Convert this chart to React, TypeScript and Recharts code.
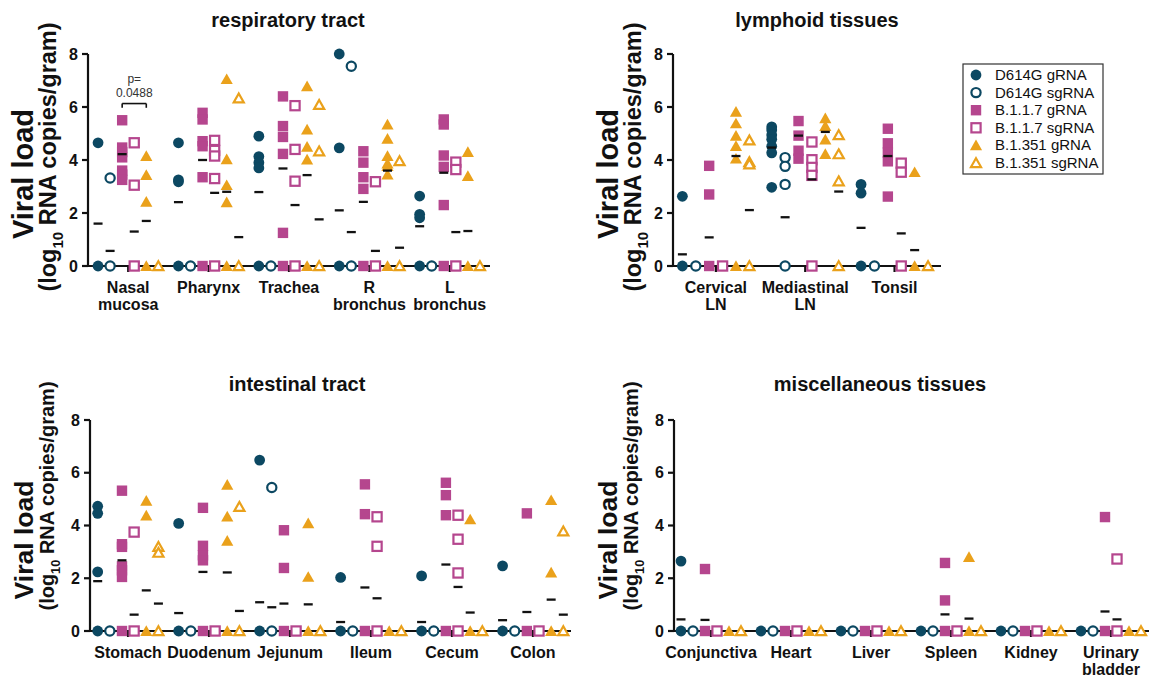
import React from 'react';
import { ScatterChart, Scatter, XAxis, YAxis, ReferenceLine, ReferenceDot } from 'recharts';

const FONT = '"Liberation Sans", Arial, Helvetica, sans-serif';
const INK = '#111111';
const TEAL = '#0c4862';
const PLUM = '#b5468e';
const GOLD = '#eaa11b';

// series order inside every tissue group
const SERIES_NAMES = ['D614G gRNA', 'D614G sgRNA', 'B.1.1.7 gRNA', 'B.1.1.7 sgRNA', 'B.1.351 gRNA', 'B.1.351 sgRNA'];
const SERIES_COLORS = [TEAL, TEAL, PLUM, PLUM, GOLD, GOLD];
const SERIES_SHAPES = ['circle', 'circle', 'square', 'square', 'triangle', 'triangle'];
const SERIES_OPEN = [false, true, false, true, false, true];
const GROUP_STEP = 0.15;

// respiratory tract: values per tissue (log10 copies/gram)
const respCats = ['Nasal\nmucosa', 'Pharynx', 'Trachea', 'R\nbronchus', 'L\nbronchus'];
const respD614Gg = [[4.65, 0], [4.65, 3.25, 3.18, 0], [4.9, 4.13, 3.9, 3.7, 0], [8.0, 4.46, 0], [2.64, 1.95, 1.82, 0]];
const respD614Gsg = [[3.32, 0], [0], [0], [7.54, 0], [0]];
const respB117g = [[5.5, 4.47, 4.3, 4.1, 3.6, 3.45, 3.25], [5.78, 5.53, 4.71, 4.52, 3.35, 0], [6.4, 5.28, 4.87, 4.23, 1.25, 0], [4.33, 3.9, 3.35, 2.91, 0], [5.53, 5.34, 4.17, 3.74, 2.3, 0]];
const respB117sg = [[4.65, 3.05, 0], [4.74, 4.36, 4.15, 3.3, 0], [6.05, 4.4, 3.2, 0], [3.18, 0], [3.92, 3.64, 0]];
const respB1351g = [[4.15, 3.43, 2.42, 0], [7.05, 4.03, 3.05, 2.4, 0], [6.78, 5.15, 4.5, 4.02, 0], [5.34, 4.8, 4.15, 3.87, 3.77, 3.45, 0], [4.3, 3.39, 0]];
const respB1351sg = [[0], [6.33, 0], [6.08, 4.33, 0], [3.96, 0], [0]];
const respMedians = [
  [1.6, 0.57, 4.22, 1.3, 1.7, 0],
  [2.41, 0, 4.0, 2.76, 2.8, 1.09],
  [2.79, 0, 3.68, 2.3, 3.43, 1.76],
  [2.1, 1.28, 2.42, 0.57, 3.6, 0.69],
  [1.5, 0, 3.52, 1.28, 1.32, 0],
];

// lymphoid tissues
const lymCats = ['Cervical\nLN', 'Mediastinal\nLN', 'Tonsil'];
const lymD614Gg = [[2.63, 0], [5.25, 5.13, 4.94, 4.78, 4.52, 4.27, 2.97], [3.08, 2.75, 0]];
const lymD614Gsg = [[0], [4.09, 3.76, 3.08, 0], [0]];
const lymB117g = [[3.78, 2.7, 0], [5.47, 4.92, 4.35, 4.05], [5.18, 4.63, 4.28, 3.95, 2.62]];
const lymB117sg = [[0], [4.68, 4.01, 3.72, 3.42, 0], [3.88, 3.54, 0]];
const lymB1351g = [[5.82, 5.38, 4.91, 4.53, 4.05, 0], [5.57, 5.28, 4.77, 4.22], [3.54, 0]];
const lymB1351sg = [[4.74, 3.92, 3.84, 0], [4.94, 4.22, 3.2, 0], [0]];
const lymMedians = [
  [0.44, 0, 1.08, 0, 4.15, 2.11],
  [4.47, 1.84, 4.92, 3.27, 5.06, 2.81],
  [1.44, 0, 4.15, 1.23, 0.6, 0],
];

// intestinal tract
const intCats = ['Stomach', 'Duodenum', 'Jejunum', 'Ileum', 'Cecum', 'Colon'];
const intD614Gg = [[4.73, 4.46, 2.24, 0], [4.08, 0], [6.48, 0], [2.03, 0], [2.09, 0], [2.47, 0]];
const intD614Gsg = [[0], [0], [5.44, 0], [0], [0], [0]];
const intB117g = [[5.32, 3.29, 3.19, 2.45, 2.3, 2.05, 0], [4.67, 3.23, 2.87, 2.68, 0], [3.82, 2.39, 0], [5.56, 4.43, 0], [5.62, 5.15, 4.39, 0], [4.46, 0]];
const intB117sg = [[3.75, 0], [0], [0], [4.33, 3.21, 0], [4.39, 3.48, 2.2, 0], [0]];
const intB1351g = [[4.94, 4.38, 0], [5.54, 4.34, 3.42, 0], [4.08, 2.05, 0], [0], [4.23, 0], [4.96, 2.22, 0]];
const intB1351sg = [[3.19, 2.97, 0], [4.71, 0], [0], [0], [0], [3.78, 0]];
const intMedians = [
  [1.89, 0, 2.68, 0.62, 1.54, 1.04],
  [0.68, 0, 2.24, 0, 2.22, 0.76],
  [1.09, 0.9, 1.04, 0, 1.01, 0],
  [0.34, 0, 1.65, 1.24, 0, 0],
  [0.34, 0, 2.52, 1.67, 0.7, 0],
  [0.41, 0, 0.72, 0, 1.19, 0.62],
];

// miscellaneous tissues
const miscCats = ['Conjunctiva', 'Heart', 'Liver', 'Spleen', 'Kidney', 'Urinary\nbladder'];
const miscD614Gg = [[2.65, 0], [0], [0], [0], [0], [0]];
const miscD614Gsg = [[0], [0], [0], [0], [0], [0]];
const miscB117g = [[2.35, 0], [0], [0], [2.58, 1.16, 0], [0], [4.32, 0]];
const miscB117sg = [[0], [0], [0], [0], [0], [2.73, 0]];
const miscB1351g = [[0], [0], [0], [2.8, 0], [0], [0]];
const miscB1351sg = [[0], [0], [0], [0], [0], [0]];
const miscMedians = [
  [0.44, 0, 0.42, 0, 0, 0],
  [0, 0, 0, 0, 0, 0],
  [0, 0, 0, 0, 0, 0],
  [0, 0, 0.63, 0, 0.47, 0],
  [0, 0, 0, 0, 0, 0],
  [0, 0, 0.74, 0.44, 0, 0],
];

const Marker = (props: any) => {
  const { cx, cy, kind, color, open } = props;
  if (cx == null || cy == null) return null;
  if (kind === 'circle') {
    return open
      ? <circle cx={cx} cy={cy} r={4.6} fill="#fff" stroke={color} strokeWidth={2.2} />
      : <circle cx={cx} cy={cy} r={5.4} fill={color} />;
  }
  if (kind === 'square') {
    return open
      ? <rect x={cx - 4.6} y={cy - 4.6} width={9.2} height={9.2} fill="#fff" stroke={color} strokeWidth={2.2} />
      : <rect x={cx - 5.2} y={cy - 5.2} width={10.4} height={10.4} fill={color} />;
  }
  const h = open ? 4.8 : 5.8;
  const pts = `${cx},${cy - h} ${cx + h * 1.05},${cy + h * 0.85} ${cx - h * 1.05},${cy + h * 0.85}`;
  return open
    ? <polygon points={pts} fill="#fff" stroke={color} strokeWidth={2.2} />
    : <polygon points={pts} fill={color} />;
};

const Dash = (props: any) => {
  const { cx, cy } = props;
  if (cx == null || cy == null) return null;
  return <line x1={cx - 4.5} x2={cx + 4.5} y1={cy} y2={cy} stroke={INK} strokeWidth={2.3} />;
};

const CatTick = (props: any) => {
  const { x, y, payload, cats } = props;
  const lines: string[] = (cats[payload.value] || '').split('\n');
  return (
    <text x={x} y={y + 19} textAnchor="middle" fontFamily={FONT} fontWeight={700} fontSize={16} fill={INK}>
      {lines.map((l, k) => (
        <tspan key={k} x={x} dy={k === 0 ? 0 : 17}>{l}</tspan>
      ))}
    </text>
  );
};

const yLabel = (x1: number, y1: number, s1: number, x2: number, y2: number, s2: number) => () => (
  <g>
    <text transform={`translate(${x1},${y1}) rotate(-90)`} textAnchor="middle" fontFamily={FONT} fontWeight={700} fontSize={s1} fill={INK}>
      Viral load
    </text>
    <text transform={`translate(${x2},${y2}) rotate(-90)`} textAnchor="middle" fontFamily={FONT} fontWeight={700} fontSize={s2} fill={INK}>
      (log<tspan fontSize={s2 * 0.64} dy={s2 * 0.28}>10</tspan>
      <tspan dy={-s2 * 0.28}> RNA copies/gram)</tspan>
    </text>
  </g>
);

type PanelProps = {
  cats: string[];
  values: number[][][];
  medians: number[][];
  domain: [number, number];
  left: number;
  top: number;
  width: number;
  height: number;
  margin: { top: number; right: number; bottom: number; left: number };
  label: () => React.ReactNode;
  children?: React.ReactNode;
};

const Panel = ({ cats, values, medians, domain, left, top, width, height, margin, label, children }: PanelProps) => {
  const offsets = SERIES_NAMES.map((_, j) => (j - 2.5) * GROUP_STEP);
  const seriesData = values.map((perCat, j) =>
    perCat.flatMap((pts, i) => pts.map((y) => ({ x: i + offsets[j], y })))
  );
  const medianData = medians.flatMap((row, i) =>
    row.map((m, j) => ({ x: i + offsets[j], y: m })).filter((d) => d.y > 0)
  );
  return (
    <div style={{ position: 'absolute', left, top, width, height }}>
      <ScatterChart width={width} height={height} margin={margin}>
        <XAxis
          type="number"
          dataKey="x"
          domain={domain}
          ticks={cats.map((_, i) => i)}
          interval={0}
          tick={<CatTick cats={cats} />}
          tickSize={6}
          tickMargin={2}
          height={40}
          axisLine={{ stroke: INK, strokeWidth: 2.2 }}
          tickLine={{ stroke: INK, strokeWidth: 2.2 }}
        />
        <YAxis
          type="number"
          dataKey="y"
          domain={[0, 8]}
          ticks={[0, 2, 4, 6, 8]}
          width={40}
          tickSize={6}
          tickMargin={4}
          tick={{ fill: INK, fontSize: 16, fontWeight: 700, fontFamily: FONT }}
          axisLine={{ stroke: INK, strokeWidth: 2.2 }}
          tickLine={{ stroke: INK, strokeWidth: 2.2 }}
          label={label}
        />
        {seriesData.map((d, j) => (
          <Scatter
            key={SERIES_NAMES[j]}
            name={SERIES_NAMES[j]}
            data={d}
            isAnimationActive={false}
            shape={(p: any) => <Marker {...p} kind={SERIES_SHAPES[j]} color={SERIES_COLORS[j]} open={SERIES_OPEN[j]} />}
          />
        ))}
        <Scatter name="median" data={medianData} isAnimationActive={false} shape={(p: any) => <Dash {...p} />} />
        {children}
      </ScatterChart>
    </div>
  );
};

const titles = [
  { text: 'respiratory tract', x: 288, y: 27 },
  { text: 'lymphoid tissues', x: 817, y: 27 },
  { text: 'intestinal tract', x: 297, y: 391 },
  { text: 'miscellaneous tissues', x: 880, y: 391 },
];

const App = () => {
  const topMargin = { top: 54, right: 10, bottom: 24, left: 48 };
  return (
    <div style={{ position: 'absolute', left: 0, top: 0, width: 1151, height: 679, background: '#fff', fontFamily: FONT }}>
      <Panel
        cats={respCats}
        values={[respD614Gg, respD614Gsg, respB117g, respB117sg, respB1351g, respB1351sg]}
        medians={respMedians}
        domain={[-0.5, 4.5]}
        left={0}
        top={0}
        width={500}
        height={330}
        margin={topMargin}
        label={yLabel(33, 174, 29, 56, 157, 23.5)}
      >
        <ReferenceLine segment={[{ x: -0.075, y: 6.13 }, { x: 0.225, y: 6.13 }]} stroke={INK} strokeWidth={1.6} />
        <ReferenceLine segment={[{ x: -0.075, y: 6.13 }, { x: -0.075, y: 5.97 }]} stroke={INK} strokeWidth={1.6} />
        <ReferenceLine segment={[{ x: 0.225, y: 6.13 }, { x: 0.225, y: 5.97 }]} stroke={INK} strokeWidth={1.6} />
        <ReferenceDot
          x={0.075}
          y={6.13}
          r={0}
          shape={(p: any) => (
            <g fontFamily={FONT} fontSize={12} fill="#333">
              <text x={p.cx} y={p.cy - 21} textAnchor="middle">p=</text>
              <text x={p.cx} y={p.cy - 7} textAnchor="middle">0.0488</text>
            </g>
          )}
        />
      </Panel>
      <Panel
        cats={lymCats}
        values={[lymD614Gg, lymD614Gsg, lymB117g, lymB117sg, lymB1351g, lymB1351sg]}
        medians={lymMedians}
        domain={[-0.48, 2.52]}
        left={585}
        top={0}
        width={566}
        height={330}
        margin={{ top: 54, right: 210, bottom: 24, left: 48 }}
        label={yLabel(33, 174, 29, 56, 157, 23.5)}
      />
      <Panel
        cats={intCats}
        values={[intD614Gg, intD614Gsg, intB117g, intB117sg, intB1351g, intB1351sg]}
        medians={intMedians}
        domain={[-0.47, 5.47]}
        left={0}
        top={360}
        width={580}
        height={319}
        margin={{ top: 60, right: 9, bottom: 8, left: 50 }}
        label={yLabel(33, 180, 26.5, 54, 136, 20)}
      />
      <Panel
        cats={miscCats}
        values={[miscD614Gg, miscD614Gsg, miscB117g, miscB117sg, miscB1351g, miscB1351sg]}
        medians={miscMedians}
        domain={[-0.4625, 5.475]}
        left={584}
        top={360}
        width={567}
        height={319}
        margin={{ top: 60, right: 2, bottom: 8, left: 50 }}
        label={yLabel(33, 180, 26.5, 54, 136, 20)}
      />
      <svg width={1151} height={679} style={{ position: 'absolute', left: 0, top: 0, pointerEvents: 'none' }}>
        {titles.map((t) => (
          <text key={t.text} x={t.x} y={t.y} textAnchor="middle" fontFamily={FONT} fontWeight={700} fontSize={20} fill={INK}>
            {t.text}
          </text>
        ))}
        <rect x={963} y={64} width={140} height={110} fill="#fff" stroke="#333" strokeWidth={1.2} />
        {SERIES_NAMES.map((n, k) => {
          const cy = 75 + k * 17.6;
          return (
            <g key={n}>
              <Marker cx={976} cy={cy} kind={SERIES_SHAPES[k]} color={SERIES_COLORS[k]} open={SERIES_OPEN[k]} />
              <text x={995} y={cy + 5} fontFamily={FONT} fontSize={15} fill={INK}>{n}</text>
            </g>
          );
        })}
      </svg>
    </div>
  );
};

export default App;
